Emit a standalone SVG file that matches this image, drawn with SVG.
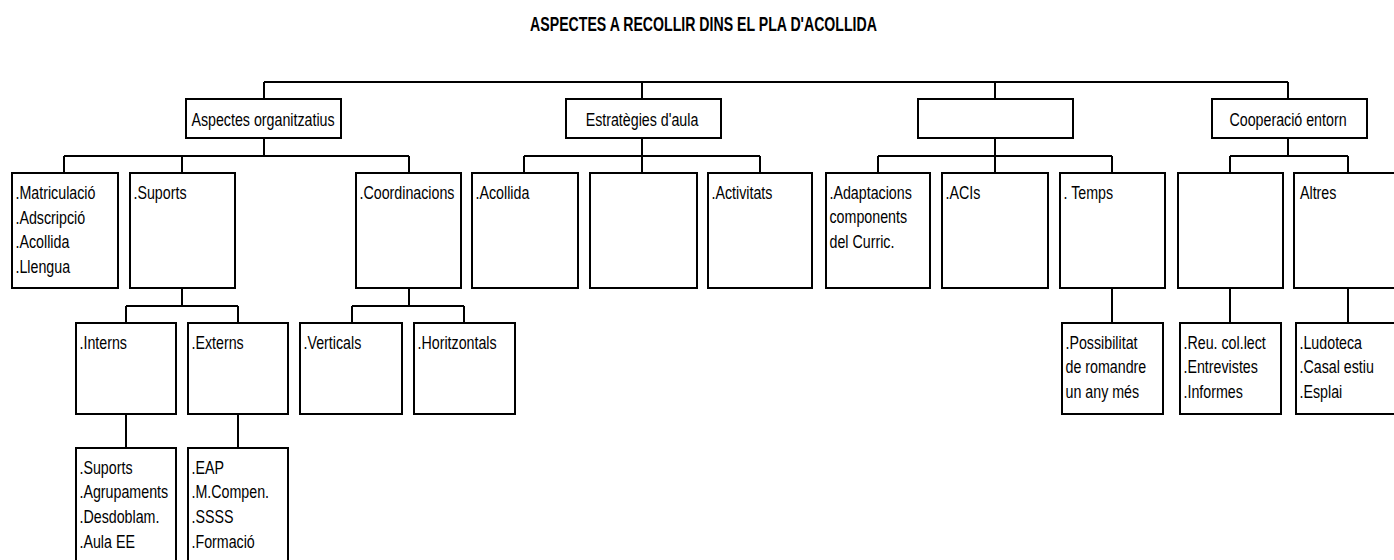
<svg xmlns="http://www.w3.org/2000/svg" width="1394" height="560" viewBox="0 0 1394 560">
<style>
.box{fill:#fff;stroke:#000;stroke-width:2}
.ln{fill:none;stroke:#000;stroke-width:2}
.t{font-family:"Liberation Sans",Arial,sans-serif;font-size:18.5px;fill:#000}
.c{text-anchor:middle}
.ttl{font-family:"Liberation Sans",Arial,sans-serif;font-size:19.5px;font-weight:bold;fill:#000;text-anchor:middle}
</style>
<rect x="0" y="0" width="1394" height="560" fill="#fff"/>
<text class="ttl" transform="translate(703.5,31) scale(0.725,1)">ASPECTES A RECOLLIR DINS EL PLA D'ACOLLIDA</text>
<g id="connectors">
<path class="ln" d="M264,82H1288M264,82V99M642,82V99M995,82V99M1288,82V99"/>
<path class="ln" d="M264,138V156M64,156H409M64,156V173M182,156V173M409,156V173"/>
<path class="ln" d="M642,138V156M524,156H760M524,156V173M642,156V173M760,156V173"/>
<path class="ln" d="M995,138V156M878,156H1112M878,156V173M995,156V173M1112,156V173"/>
<path class="ln" d="M1288,138V156M1230,156H1348M1230,156V173M1348,156V173"/>
<path class="ln" d="M182,288V306M126,306H238M126,306V323M238,306V323"/>
<path class="ln" d="M409,288V306M352,306H464M352,306V323M464,306V323"/>
<path class="ln" d="M1112,288V323M1230,288V323M1348,288V323"/>
<path class="ln" d="M126,414V448M238,414V448"/>
</g>
<g id="n-aspectes"><rect class="box" x="186" y="99" width="155" height="39"/><text class="t c" transform="translate(263,126) scale(0.77,1)">Aspectes organitzatius</text></g>
<g id="n-estrategies"><rect class="box" x="566" y="99" width="155" height="39"/><text class="t c" transform="translate(642,126) scale(0.77,1)">Estratègies d'aula</text></g>
<g id="n-blank-top"><rect class="box" x="918" y="99" width="155" height="39"/></g>
<g id="n-cooperacio"><rect class="box" x="1212" y="99" width="155" height="39"/><text class="t c" transform="translate(1288,126) scale(0.77,1)">Cooperació entorn</text></g>

<g id="n-matriculacio"><rect class="box" x="12" y="173" width="106" height="115"/><text class="t" transform="translate(15.5,199) scale(0.77,1)"><tspan x="0" y="0">.Matriculació</tspan><tspan x="0" y="24.7">.Adscripció</tspan><tspan x="0" y="49.4">.Acollida</tspan><tspan x="0" y="74.1">.Llengua</tspan></text></g>
<g id="n-suports"><rect class="box" x="130" y="173" width="105" height="115"/><text class="t" transform="translate(133.5,199) scale(0.77,1)">.Suports</text></g>
<g id="n-coordinacions"><rect class="box" x="356" y="173" width="105" height="115"/><text class="t" transform="translate(359.5,199) scale(0.77,1)">.Coordinacions</text></g>
<g id="n-acollida"><rect class="box" x="472" y="173" width="106" height="115"/><text class="t" transform="translate(475.5,199) scale(0.77,1)">.Acollida</text></g>
<g id="n-blank-mid"><rect class="box" x="590" y="173" width="107" height="115"/></g>
<g id="n-activitats"><rect class="box" x="708" y="173" width="104" height="115"/><text class="t" transform="translate(711.5,199) scale(0.77,1)">.Activitats</text></g>
<g id="n-adaptacions"><rect class="box" x="826" y="173" width="104" height="115"/><text class="t" transform="translate(829.5,199) scale(0.77,1)"><tspan x="0" y="0">.Adaptacions</tspan><tspan x="0" y="24.5">components</tspan><tspan x="0" y="49">del Curric.</tspan></text></g>
<g id="n-acis"><rect class="box" x="942" y="173" width="106" height="115"/><text class="t" transform="translate(945.5,199) scale(0.77,1)">.ACIs</text></g>
<g id="n-temps"><rect class="box" x="1060" y="173" width="105" height="115"/><text class="t" transform="translate(1063.5,199) scale(0.77,1)">. Temps</text></g>
<g id="n-blank-coop"><rect class="box" x="1178" y="173" width="105" height="115"/></g>
<g id="n-altres"><rect class="box" x="1294" y="173" width="110" height="115"/><text class="t" transform="translate(1300,199) scale(0.77,1)">Altres</text></g>

<g id="n-interns"><rect class="box" x="76" y="323" width="100" height="91"/><text class="t" transform="translate(79.5,349) scale(0.77,1)">.Interns</text></g>
<g id="n-externs"><rect class="box" x="188" y="323" width="100" height="91"/><text class="t" transform="translate(191.5,349) scale(0.77,1)">.Externs</text></g>
<g id="n-verticals"><rect class="box" x="300" y="323" width="102" height="91"/><text class="t" transform="translate(303.5,349) scale(0.77,1)">.Verticals</text></g>
<g id="n-horitzontals"><rect class="box" x="414" y="323" width="101" height="91"/><text class="t" transform="translate(417.5,349) scale(0.77,1)">.Horitzontals</text></g>
<g id="n-possibilitat"><rect class="box" x="1062" y="323" width="101" height="91"/><text class="t" transform="translate(1065.5,349) scale(0.77,1)"><tspan x="0" y="0">.Possibilitat</tspan><tspan x="0" y="24.5">de romandre</tspan><tspan x="0" y="49">un any més</tspan></text></g>
<g id="n-reu"><rect class="box" x="1180" y="323" width="101" height="91"/><text class="t" transform="translate(1183.5,349) scale(0.77,1)"><tspan x="0" y="0">.Reu. col.lect</tspan><tspan x="0" y="24.5">.Entrevistes</tspan><tspan x="0" y="49">.Informes</tspan></text></g>
<g id="n-ludoteca"><rect class="box" x="1296" y="323" width="110" height="91"/><text class="t" transform="translate(1299.5,349) scale(0.77,1)"><tspan x="0" y="0">.Ludoteca</tspan><tspan x="0" y="24.5">.Casal estiu</tspan><tspan x="0" y="49">.Esplai</tspan></text></g>

<g id="n-interns-list"><rect class="box" x="76" y="448" width="100" height="125"/><text class="t" transform="translate(79.5,473.5) scale(0.77,1)"><tspan x="0" y="0">.Suports</tspan><tspan x="0" y="25">.Agrupaments</tspan><tspan x="0" y="49.5">.Desdoblam.</tspan><tspan x="0" y="74.5">.Aula EE</tspan></text></g>
<g id="n-externs-list"><rect class="box" x="188" y="448" width="100" height="125"/><text class="t" transform="translate(191.5,473.5) scale(0.77,1)"><tspan x="0" y="0">.EAP</tspan><tspan x="0" y="25">.M.Compen.</tspan><tspan x="0" y="49.5">.SSSS</tspan><tspan x="0" y="74.5">.Formació</tspan></text></g>
</svg>
